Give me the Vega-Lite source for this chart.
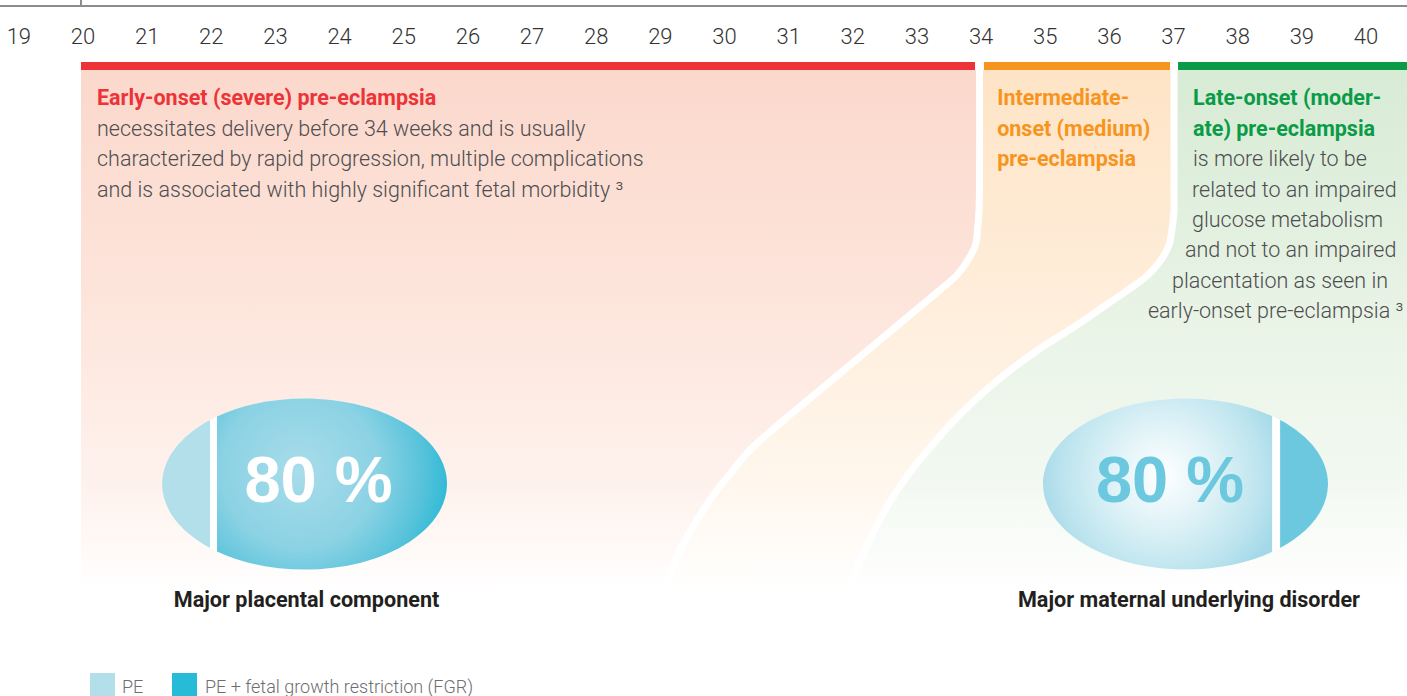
{
"$schema":"https://vega.github.io/schema/vega-lite/v6.json",
"width":1407,"height":696,
"autosize":{"type":"none"},
"padding":0,
"background":"#ffffff",
"config":{"view":{"stroke":null},"text":{"font":"Roboto"}},
"resolve":{"scale":{"color":"independent"}},
"datasets":{
"weeks":[{"week":19},{"week":20},{"week":21},{"week":22},{"week":23},{"week":24},{"week":25},{"week":26},{"week":27},{"week":28},{"week":29},{"week":30},{"week":31},{"week":32},{"week":33},{"week":34},{"week":35},{"week":36},{"week":37},{"week":38},{"week":39},{"week":40}],
"phases":[{"phase":"Early-onset","start":19.969,"end":33.905},{"phase":"Intermediate-onset","start":34.045,"end":36.945},{"phase":"Late-onset","start":37.07,"end":40.639}],
"boundaries":[{"py":70,"c1":33.975,"c2":37.007},{"py":190,"c1":33.975,"c2":37.007},{"py":210,"c1":33.967,"c2":37.007},{"py":230,"c1":33.944,"c2":36.975},{"py":245,"c1":33.912,"c2":36.929},{"py":260,"c1":33.795,"c2":36.804},{"py":275,"c1":33.624,"c2":36.601},{"py":290,"c1":33.359,"c2":36.29},{"py":305,"c1":33.078,"c2":35.947},{"py":325,"c1":32.704,"c2":35.495},{"py":350,"c1":32.237,"c2":34.887},{"py":375,"c1":31.769,"c2":34.357},{"py":400,"c1":31.301,"c2":33.905},{"py":425,"c1":30.834,"c2":33.515},{"py":450,"c1":30.397,"c2":33.172},{"py":475,"c1":30.07,"c2":32.86},{"py":500,"c1":29.774,"c2":32.595},{"py":525,"c1":29.524,"c2":32.377},{"py":550,"c1":29.306,"c2":32.19},{"py":575,"c1":29.15,"c2":32.018},{"py":592,"c1":29.057,"c2":31.925}],
"ellipses":[{"group":"Early-onset","week":23.453,"py":484},{"group":"Late-onset","week":37.186,"py":484}],
"headings":[
{"text":"Early-onset (severe) pre-eclampsia","week":20.218,"py":105,"phase":"Early-onset"},
{"text":"Intermediate-","week":34.25,"py":105,"phase":"Intermediate-onset"},
{"text":"onset (medium)","week":34.25,"py":136,"phase":"Intermediate-onset"},
{"text":"pre-eclampsia","week":34.25,"py":166,"phase":"Intermediate-onset"},
{"text":"Late-onset (moder-","week":37.303,"py":105,"phase":"Late-onset"},
{"text":"ate) pre-eclampsia","week":37.303,"py":136,"phase":"Late-onset"}],
"body":[
{"text":"necessitates delivery before 34 weeks and is usually","week":20.218,"py":136},
{"text":"characterized by rapid progression, multiple complications","week":20.218,"py":166},
{"text":"and is associated with highly significant fetal morbidity ³","week":20.218,"py":197},
{"text":"is more likely to be","week":37.303,"py":166},
{"text":"related to an impaired","week":37.287,"py":197},
{"text":"glucose metabolism","week":37.287,"py":227},
{"text":"and not to an impaired","week":37.178,"py":257},
{"text":"placentation as seen in","week":36.975,"py":288},
{"text":"early-onset pre-eclampsia ³","week":36.601,"py":318}],
"shares":[{"group":"Early-onset","text":"80 %","week":23.671,"py":502},{"group":"Late-onset","text":"80 %","week":36.944,"py":502}],
"components":[{"text":"Major placental component","week":23.484,"py":607},{"text":"Major maternal underlying disorder","week":37.24,"py":607}],
"legend":[{"label":"PE","start":20.109,"end":20.499,"textAt":20.608},{"label":"PE + fetal growth restriction (FGR)","start":21.387,"end":21.777,"textAt":21.902}],
"marker":[{"week":19.969}]
},
"layer":[
{"data":{"name":"boundaries"},
 "mark":{"type":"area","orient":"horizontal","interpolate":"catmull-rom","color":{"gradient":"linear","x1":0,"y1":0,"x2":0,"y2":1,"stops":[{"offset":0,"color":"#fbd8cc"},{"offset":0.45,"color":"#fde5dc"},{"offset":0.8,"color":"#fef2ed"},{"offset":1,"color":"#ffffff"}]}},
 "encoding":{"y":{"field":"py","type":"quantitative","scale":{"domain":[0,696],"reverse":true,"nice":false,"zero":false},"axis":null},
  "x":{"field":"c1","type":"quantitative","scale":{"domain":[18.706,40.639],"nice":false,"zero":false},"axis":null},
  "x2":{"datum":19.969}}},
{"data":{"name":"boundaries"},
 "mark":{"type":"area","orient":"horizontal","interpolate":"catmull-rom","color":{"gradient":"linear","x1":0,"y1":0,"x2":0,"y2":1,"stops":[{"offset":0,"color":"#fee4c6"},{"offset":0.45,"color":"#ffeedb"},{"offset":0.8,"color":"#fff7ee"},{"offset":1,"color":"#ffffff"}]}},
 "encoding":{"y":{"field":"py","type":"quantitative","scale":{"domain":[0,696],"reverse":true,"nice":false,"zero":false},"axis":null},
  "x":{"field":"c1","type":"quantitative","scale":{"domain":[18.706,40.639],"nice":false,"zero":false},"axis":null},
  "x2":{"field":"c2"}}},
{"data":{"name":"boundaries"},
 "mark":{"type":"area","orient":"horizontal","interpolate":"catmull-rom","color":{"gradient":"linear","x1":0,"y1":0,"x2":0,"y2":1,"stops":[{"offset":0,"color":"#d7ebd5"},{"offset":0.45,"color":"#e8f3e5"},{"offset":0.8,"color":"#f3f9f2"},{"offset":1,"color":"#ffffff"}]}},
 "encoding":{"y":{"field":"py","type":"quantitative","scale":{"domain":[0,696],"reverse":true,"nice":false,"zero":false},"axis":null},
  "x":{"field":"c2","type":"quantitative","scale":{"domain":[18.706,40.639],"nice":false,"zero":false},"axis":null},
  "x2":{"datum":40.639}}},
{"data":{"name":"boundaries"},
 "mark":{"type":"line","color":"#ffffff","strokeWidth":7,"interpolate":"catmull-rom","strokeCap":"butt"},
 "encoding":{"y":{"field":"py","type":"quantitative","scale":{"domain":[0,696],"reverse":true,"nice":false,"zero":false},"axis":null},
  "x":{"field":"c1","type":"quantitative","scale":{"domain":[18.706,40.639],"nice":false,"zero":false},"axis":null},
  "order":{"field":"py","type":"quantitative"}}},
{"data":{"name":"boundaries"},
 "mark":{"type":"line","color":"#ffffff","strokeWidth":7,"interpolate":"catmull-rom","strokeCap":"butt"},
 "encoding":{"y":{"field":"py","type":"quantitative","scale":{"domain":[0,696],"reverse":true,"nice":false,"zero":false},"axis":null},
  "x":{"field":"c2","type":"quantitative","scale":{"domain":[18.706,40.639],"nice":false,"zero":false},"axis":null},
  "order":{"field":"py","type":"quantitative"}}},
{"data":{"name":"phases"},
 "mark":{"type":"rect"},
 "encoding":{"x":{"field":"start","type":"quantitative","scale":{"domain":[18.706,40.639],"nice":false,"zero":false},"axis":null},
  "x2":{"field":"end"},
  "y":{"datum":62,"type":"quantitative","scale":{"domain":[0,696],"reverse":true,"nice":false,"zero":false},"axis":null},
  "y2":{"datum":70},
  "color":{"field":"phase","type":"nominal","scale":{"domain":["Early-onset","Intermediate-onset","Late-onset"],"range":["#ed3238","#f7941d","#0a9b47"]},"legend":null}}},
{"data":{"name":"marker"},
 "mark":{"type":"rule","color":"#8d8d8f","strokeWidth":2},
 "encoding":{"y":{"datum":6,"type":"quantitative","scale":{"domain":[0,696],"reverse":true,"nice":false,"zero":false},"axis":null}}},
{"data":{"name":"marker"},
 "mark":{"type":"rule","color":"#8d8d8f","strokeWidth":2},
 "encoding":{"x":{"field":"week","type":"quantitative","scale":{"domain":[18.706,40.639],"nice":false,"zero":false},"axis":null},
  "y":{"datum":0,"type":"quantitative","scale":{"domain":[0,696],"reverse":true,"nice":false,"zero":false},"axis":null},
  "y2":{"datum":7}}},
{"data":{"name":"weeks"},
 "mark":{"type":"text","fontSize":22,"fontWeight":300,"color":"#333333","align":"center","baseline":"alphabetic"},
 "encoding":{"x":{"field":"week","type":"quantitative","scale":{"domain":[18.706,40.639],"nice":false,"zero":false},"axis":null},
  "y":{"datum":44,"type":"quantitative","scale":{"domain":[0,696],"reverse":true,"nice":false,"zero":false},"axis":null},
  "text":{"field":"week","type":"quantitative"}}},
{"data":{"name":"headings"},
 "mark":{"type":"text","fontSize":21.5,"fontWeight":"bold","align":"left","baseline":"alphabetic"},
 "encoding":{"x":{"field":"week","type":"quantitative","scale":{"domain":[18.706,40.639],"nice":false,"zero":false},"axis":null},
  "y":{"field":"py","type":"quantitative","scale":{"domain":[0,696],"reverse":true,"nice":false,"zero":false},"axis":null},
  "text":{"field":"text"},
  "color":{"field":"phase","type":"nominal","scale":{"domain":["Early-onset","Intermediate-onset","Late-onset"],"range":["#ed3238","#f7941d","#0a9b47"]},"legend":null}}},
{"data":{"name":"body"},
 "mark":{"type":"text","fontSize":21.5,"fontWeight":300,"color":"#4d4d4f","align":"left","baseline":"alphabetic"},
 "encoding":{"x":{"field":"week","type":"quantitative","scale":{"domain":[18.706,40.639],"nice":false,"zero":false},"axis":null},
  "y":{"field":"py","type":"quantitative","scale":{"domain":[0,696],"reverse":true,"nice":false,"zero":false},"axis":null},
  "text":{"field":"text"}}},
{"data":{"name":"ellipses"},
 "mark":{"type":"point","filled":true,"opacity":1,"strokeWidth":0,"size":81225,"fill":"#ffffff","shape":"M -1 0 A 1 0.6 0 1 1 1 0 A 1 0.6 0 1 1 -1 0 Z"},
 "encoding":{"x":{"field":"week","type":"quantitative","scale":{"domain":[18.706,40.639],"nice":false,"zero":false},"axis":null},
  "y":{"field":"py","type":"quantitative","scale":{"domain":[0,696],"reverse":true,"nice":false,"zero":false},"axis":null}}},
{"data":{"name":"ellipses"},
 "transform":[{"filter":"datum.group == 'Early-onset'"}],
 "mark":{"type":"point","filled":true,"opacity":1,"strokeWidth":0,"size":81225,"fill":"#b3dfeb","shape":"M -0.663 -0.449 A 1 0.6 0 0 0 -0.663 0.449 Z"},
 "encoding":{"x":{"field":"week","type":"quantitative","scale":{"domain":[18.706,40.639],"nice":false,"zero":false},"axis":null},
  "y":{"field":"py","type":"quantitative","scale":{"domain":[0,696],"reverse":true,"nice":false,"zero":false},"axis":null}}},
{"data":{"name":"ellipses"},
 "transform":[{"filter":"datum.group == 'Early-onset'"}],
 "mark":{"type":"point","filled":true,"opacity":1,"strokeWidth":0,"size":81225,"shape":"M -0.614 -0.4736 A 1 0.6 0 1 1 -0.614 0.4736 Z",
  "fill":{"gradient":"radial","x1":0.36,"y1":0.44,"r1":0,"x2":0.36,"y2":0.44,"r2":0.68,"stops":[{"offset":0,"color":"#a8dcea"},{"offset":0.5,"color":"#8bd2e4"},{"offset":0.8,"color":"#55c2da"},{"offset":1,"color":"#25b8d5"}]}},
 "encoding":{"x":{"field":"week","type":"quantitative","scale":{"domain":[18.706,40.639],"nice":false,"zero":false},"axis":null},
  "y":{"field":"py","type":"quantitative","scale":{"domain":[0,696],"reverse":true,"nice":false,"zero":false},"axis":null}}},
{"data":{"name":"ellipses"},
 "transform":[{"filter":"datum.group == 'Late-onset'"}],
 "mark":{"type":"point","filled":true,"opacity":1,"strokeWidth":0,"size":81225,"shape":"M 0.608 -0.4763 A 1 0.6 0 1 0 0.608 0.4763 Z",
  "fill":{"gradient":"radial","x1":0.52,"y1":0.46,"r1":0,"x2":0.52,"y2":0.46,"r2":0.56,"stops":[{"offset":0,"color":"#ffffff"},{"offset":0.35,"color":"#e3f4f8"},{"offset":0.75,"color":"#bfe5ef"},{"offset":1,"color":"#a2d8e7"}]}},
 "encoding":{"x":{"field":"week","type":"quantitative","scale":{"domain":[18.706,40.639],"nice":false,"zero":false},"axis":null},
  "y":{"field":"py","type":"quantitative","scale":{"domain":[0,696],"reverse":true,"nice":false,"zero":false},"axis":null}}},
{"data":{"name":"ellipses"},
 "transform":[{"filter":"datum.group == 'Late-onset'"}],
 "mark":{"type":"point","filled":true,"opacity":1,"strokeWidth":0,"size":81225,"fill":"#6cc8de","shape":"M 0.664 -0.4486 A 1 0.6 0 0 1 0.664 0.4486 Z"},
 "encoding":{"x":{"field":"week","type":"quantitative","scale":{"domain":[18.706,40.639],"nice":false,"zero":false},"axis":null},
  "y":{"field":"py","type":"quantitative","scale":{"domain":[0,696],"reverse":true,"nice":false,"zero":false},"axis":null}}},
{"data":{"name":"shares"},
 "transform":[{"filter":"datum.group == 'Early-onset'"}],
 "mark":{"type":"text","font":"Liberation Sans","fontSize":65,"fontWeight":"bold","color":"#ffffff","align":"center","baseline":"alphabetic"},
 "encoding":{"x":{"field":"week","type":"quantitative","scale":{"domain":[18.706,40.639],"nice":false,"zero":false},"axis":null},
  "y":{"field":"py","type":"quantitative","scale":{"domain":[0,696],"reverse":true,"nice":false,"zero":false},"axis":null},
  "text":{"field":"text"}}},
{"data":{"name":"shares"},
 "transform":[{"filter":"datum.group == 'Late-onset'"}],
 "mark":{"type":"text","font":"Liberation Sans","fontSize":65,"fontWeight":"bold","color":"#6cc8de","align":"center","baseline":"alphabetic"},
 "encoding":{"x":{"field":"week","type":"quantitative","scale":{"domain":[18.706,40.639],"nice":false,"zero":false},"axis":null},
  "y":{"field":"py","type":"quantitative","scale":{"domain":[0,696],"reverse":true,"nice":false,"zero":false},"axis":null},
  "text":{"field":"text"}}},
{"data":{"name":"components"},
 "mark":{"type":"text","fontSize":21.6,"fontWeight":"bold","color":"#231f20","align":"center","baseline":"alphabetic"},
 "encoding":{"x":{"field":"week","type":"quantitative","scale":{"domain":[18.706,40.639],"nice":false,"zero":false},"axis":null},
  "y":{"field":"py","type":"quantitative","scale":{"domain":[0,696],"reverse":true,"nice":false,"zero":false},"axis":null},
  "text":{"field":"text"}}},
{"data":{"name":"legend"},
 "mark":{"type":"rect"},
 "encoding":{"x":{"field":"start","type":"quantitative","scale":{"domain":[18.706,40.639],"nice":false,"zero":false},"axis":null},
  "x2":{"field":"end"},
  "y":{"datum":673,"type":"quantitative","scale":{"domain":[0,696],"reverse":true,"nice":false,"zero":false},"axis":null},
  "y2":{"datum":700},
  "color":{"field":"label","type":"nominal","scale":{"domain":["PE","PE + fetal growth restriction (FGR)"],"range":["#b3dfea","#26bcd7"]},"legend":null}}},
{"data":{"name":"legend"},
 "mark":{"type":"text","fontSize":18,"fontWeight":300,"color":"#6d6e71","align":"left","baseline":"alphabetic"},
 "encoding":{"x":{"field":"textAt","type":"quantitative","scale":{"domain":[18.706,40.639],"nice":false,"zero":false},"axis":null},
  "y":{"datum":693,"type":"quantitative","scale":{"domain":[0,696],"reverse":true,"nice":false,"zero":false},"axis":null},
  "text":{"field":"label"}}}
]
}
